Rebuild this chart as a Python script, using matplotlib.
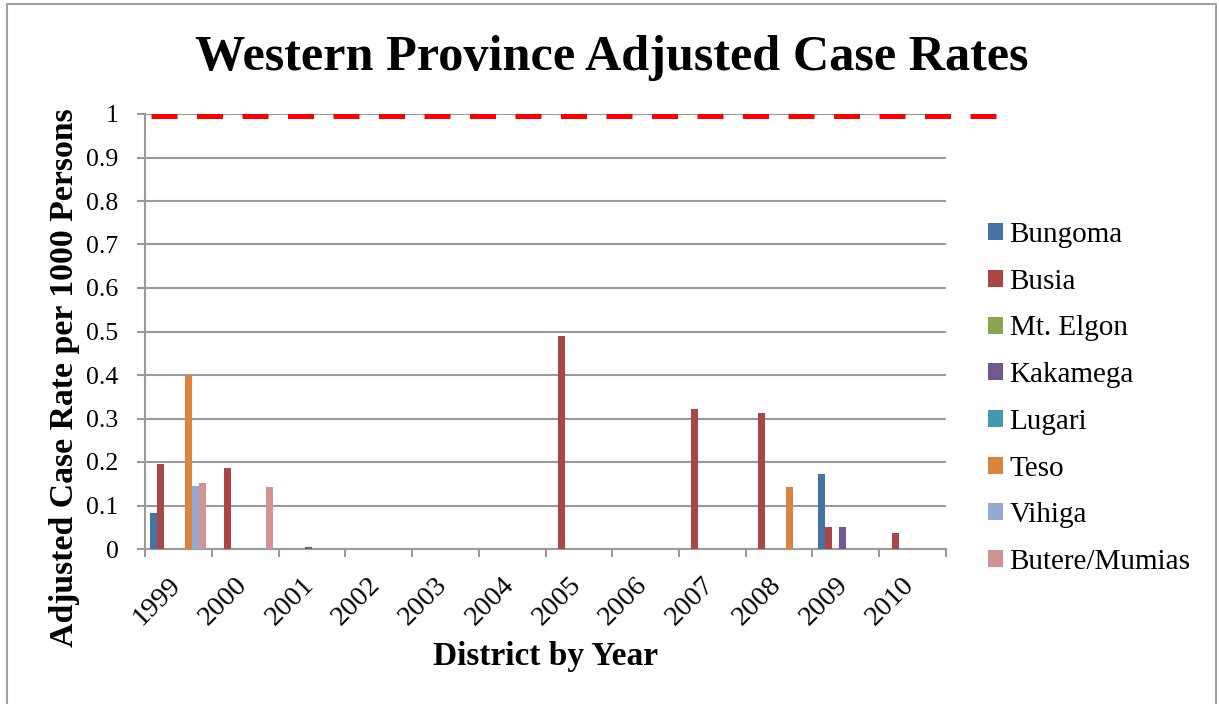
import numpy as np
import matplotlib
matplotlib.use('Agg')
import matplotlib.pyplot as plt
import matplotlib.transforms as mtransforms
from matplotlib.lines import Line2D

plt.rcParams['font.family'] = ['Liberation Serif', 'DejaVu Serif']

years = ['1999', '2000', '2001', '2002', '2003', '2004',
         '2005', '2006', '2007', '2008', '2009', '2010']
districts = ['Bungoma', 'Busia', 'Mt. Elgon', 'Kakamega',
             'Lugari', 'Teso', 'Vihiga', 'Butere/Mumias']

# adjusted case rate per 1000 persons, one list per district
bungoma = [0.083, 0, 0, 0, 0, 0, 0, 0, 0, 0, 0.172, 0]
busia = [0.195, 0.186, 0, 0, 0, 0, 0.49, 0, 0.322, 0.312, 0.05, 0.0375]
mt_elgon = [0, 0, 0, 0, 0, 0, 0, 0, 0, 0, 0, 0]
kakamega = [0, 0, 0.005, 0, 0, 0, 0, 0, 0, 0, 0.051, 0]
lugari = [0, 0, 0, 0, 0, 0, 0, 0, 0, 0, 0, 0]
teso = [0.40, 0, 0, 0, 0, 0, 0, 0, 0, 0.142, 0, 0]
vihiga = [0.145, 0, 0, 0, 0, 0, 0, 0, 0, 0.002, 0, 0]
butere_mumias = [0.152, 0.143, 0, 0, 0, 0, 0, 0, 0, 0, 0, 0]

series = [bungoma, busia, mt_elgon, kakamega, lugari, teso, vihiga, butere_mumias]
colors = ['#4572A7', '#AA4643', '#89A54E', '#71588F',
          '#4198AF', '#DB843D', '#93A9CF', '#D19392']

threshold = 0.995

W, H = 1219, 704
fig = plt.figure(figsize=(W / 100, H / 100), dpi=100)
ax = fig.add_axes([145 / W, 1 - 549 / H, (946 - 145) / W, (549 - 114) / H])

grid_c = '#9a9a9a'
x = np.arange(len(years))
bw = 0.105
for j, (vals, c) in enumerate(zip(series, colors)):
    ax.bar(x + (j - 3.5) * bw, vals, width=bw, color=c, label=districts[j],
           zorder=3, linewidth=0)

ax.set_xlim(-0.5, len(years) - 0.5)
ax.set_ylim(0, 1)
ax.set_yticks(np.arange(0, 1.01, 0.1))
ax.set_yticklabels(['0', '0.1', '0.2', '0.3', '0.4', '0.5',
                    '0.6', '0.7', '0.8', '0.9', '1'])
ax.yaxis.grid(True, color=grid_c, linewidth=1.5, zorder=0)
ax.set_axisbelow(True)

ax.set_xticks(x)
ax.set_xticklabels(years, rotation=45, ha='right', va='top')
ax.set_xticks(np.arange(-0.5, len(years)), minor=True)
ax.tick_params(axis='x', which='major', length=0, pad=17, labelsize=20.5)
ax.tick_params(axis='x', which='minor', length=6, width=1.5, color=grid_c)
ax.tick_params(axis='y', length=6, width=1.5, color=grid_c, pad=13, labelsize=18.5)

# nudge the slanted year labels to the right
shift = mtransforms.ScaledTranslation(7 / 100, 0, fig.dpi_scale_trans)
for lbl in ax.get_xticklabels():
    lbl.set_transform(lbl.get_transform() + shift)

for s in ['top', 'right']:
    ax.spines[s].set_visible(False)
for s in ['left', 'bottom']:
    ax.spines[s].set_color(grid_c)
    ax.spines[s].set_linewidth(1.5)

# red dashed reference line running past the plot into the legend area
trans = mtransforms.blended_transform_factory(ax.transAxes, ax.transData)
ax.plot([6 / 801, 856 / 801], [threshold, threshold], transform=trans,
        color='#FF0000', linewidth=3.6, dashes=(5.2, 3.9), clip_on=False,
        solid_capstyle='butt', dash_capstyle='butt', zorder=5)

fig.text(611.5 / W, 1 - 70 / H, 'Western Province Adjusted Case Rates',
         ha='center', va='baseline', fontsize=36.2, fontweight='bold')
fig.text(545.5 / W, 1 - 665 / H, 'District by Year',
         ha='center', va='baseline', fontsize=24, fontweight='bold')
fig.text(73 / W, 1 - 378 / H, 'Adjusted Case Rate per 1000 Persons',
         rotation=90, rotation_mode='anchor', ha='center', va='baseline',
         fontsize=24.3, fontweight='bold')

ax.legend(loc='upper left', bbox_to_anchor=(988 / W, 1 - 222 / H),
          bbox_transform=fig.transFigure, frameon=False, fontsize=21,
          handlelength=0.52, handleheight=0.52, handletextpad=0.22,
          labelspacing=0.71, borderpad=0, borderaxespad=0)

# outer chart border (top, left, right)
fig.add_artist(Line2D([7 / W, 7 / W, 1216 / W, 1216 / W],
                      [0, 1 - 4 / H, 1 - 4 / H, 0],
                      transform=fig.transFigure, color='#a0a0a0', linewidth=1.5))

fig.savefig('out.png', dpi=100)
